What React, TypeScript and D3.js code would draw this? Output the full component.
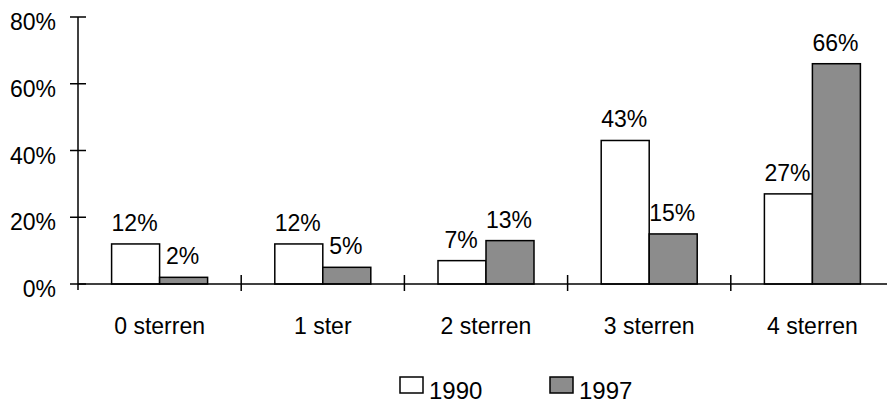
import React from "react";
import * as d3 from "d3";

const categories = ["0 sterren", "1 ster", "2 sterren", "3 sterren", "4 sterren"];
const series = ["1990", "1997"];
const values1990 = [12, 12, 7, 43, 27];
const values1997 = [2, 5, 13, 15, 66];
const yTicks = [0, 20, 40, 60, 80];

const W = 887;
const H = 403;
const FONT = "'Liberation Sans', Arial, sans-serif";

export default function App() {
  const x0 = 78;
  const bandW = 163.2;
  const x = d3
    .scaleBand<string>()
    .domain(categories)
    .range([x0, x0 + bandW * categories.length])
    .paddingInner(0)
    .paddingOuter(0);
  const y = d3.scaleLinear().domain([0, 80]).range([284, 17]);
  const barW = 48;
  const fills = ["#ffffff", "#8c8c8c"];
  const data = [values1990, values1997];

  return (
    <svg
      width={W}
      height={H}
      style={{ position: "absolute", left: 0, top: 0, display: "block" }}
      fontFamily={FONT}
    >
      <rect width={W} height={H} fill="#fff" />
      {/* bars */}
      {categories.map((c, i) => {
        const cx = (x(c) as number) + x.bandwidth() / 2;
        return data.map((vals, s) => {
          const bx = cx - barW + s * barW;
          const top = y(vals[i]);
          return (
            <g key={c + s}>
              <rect
                x={bx}
                y={top}
                width={barW}
                height={y(0) - top}
                fill={fills[s]}
                stroke="#000"
                strokeWidth={1.5}
              />
              <text
                x={bx + barW / 2 - 1}
                y={top - 13}
                textAnchor="middle"
                fontSize={23}
                fill="#000"
              >
                {vals[i]}%
              </text>
            </g>
          );
        });
      })}
      {/* y axis */}
      <line x1={x0} x2={x0} y1={y(80)} y2={y(0) + 6} stroke="#000" strokeWidth={1.5} />
      {yTicks.map((t) => (
        <g key={t}>
          <line x1={x0 - 8} x2={x0 + 8} y1={y(t)} y2={y(t)} stroke="#000" strokeWidth={1.5} />
          <text x={56} y={y(t) + 13} textAnchor="end" fontSize={23} fill="#000">
            {t}%
          </text>
        </g>
      ))}
      {/* x axis */}
      <line x1={x0} x2={W} y1={y(0)} y2={y(0)} stroke="#000" strokeWidth={1.5} />
      {categories.slice(1).map((c) => (
        <line
          key={c}
          x1={x(c) as number}
          x2={x(c) as number}
          y1={y(0) - 9}
          y2={y(0) + 7}
          stroke="#000"
          strokeWidth={1.5}
        />
      ))}
      {categories.map((c) => (
        <text
          key={c}
          x={(x(c) as number) + x.bandwidth() / 2}
          y={334}
          textAnchor="middle"
          fontSize={23}
          fill="#000"
        >
          {c}
        </text>
      ))}
      {/* legend */}
      {series.map((s, i) => {
        const lx = 400 + i * 150;
        return (
          <g key={s}>
            <rect x={lx} y={377} width={23} height={16} fill={fills[i]} stroke="#000" strokeWidth={1.5} />
            <text x={lx + 29} y={399} fontSize={24} fill="#000">
              {s}
            </text>
          </g>
        );
      })}
    </svg>
  );
}
